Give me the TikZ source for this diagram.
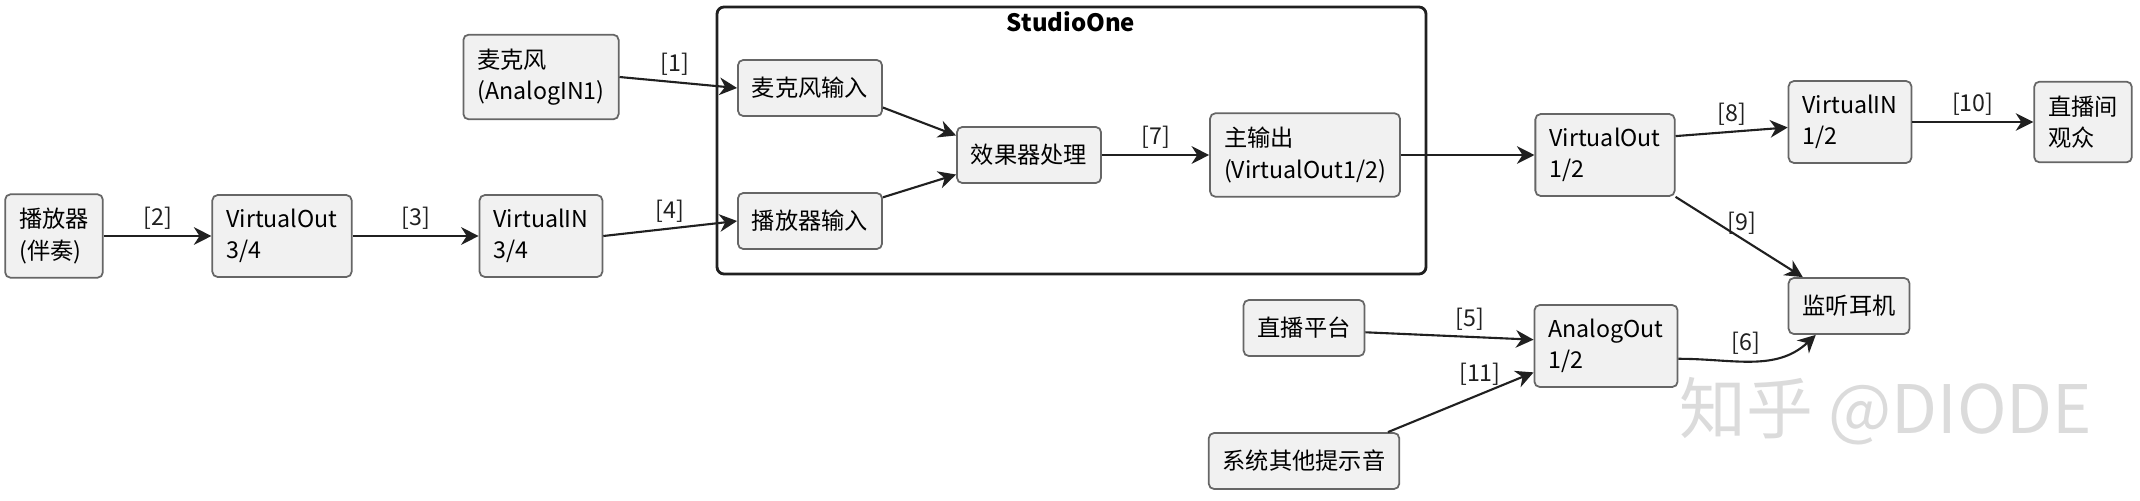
\documentclass[tikz,border=0pt]{standalone}
\usepackage{fontspec}
\setmainfont{Noto Sans CJK SC}
\usetikzlibrary{arrows.meta}

\definecolor{boxfill}{HTML}{F1F1F1}
\definecolor{boxline}{HTML}{666666}
\definecolor{wirecol}{HTML}{202020}

\begin{document}
\begin{tikzpicture}[x=0.01cm,y=-0.01cm,
    unit/.style={draw=boxline, fill=boxfill, rounded corners=1.5pt, line width=0.5pt,
        align=left, inner xsep=0.14cm, inner ysep=0.14cm, minimum height=0.56cm,
        font=\fontsize{6.6}{8.9}\selectfont},
    wire/.style={draw=wirecol, line width=0.6pt, -{Stealth[length=5pt,width=5pt,inset=1.6pt]}},
    tag/.style={font=\fontsize{6.6}{8}\selectfont, text=wirecol, inner sep=1.5pt}]
\useasboundingbox (0,0) rectangle (2140,500);

% StudioOne frame
\draw[draw=wirecol, line width=0.8pt, rounded corners=2pt] (717,7) rectangle (1426,274);
\node[font=\fontsize{6.8}{8}\selectfont\bfseries] (studio) at (1071,22) {StudioOne};

% Sources
\node[unit] (player) at (54,236) {播放器\\(伴奏)};
\node[unit] (vout34) at (282,236) {VirtualOut\\3/4};
\node[unit] (vin34) at (541,236) {VirtualIN\\3/4};
\node[unit] (mic) at (541,77) {麦克风\\(AnalogIN1)};

% Inside StudioOne
\node[unit] (micin) at (810,88) {麦克风输入};
\node[unit] (plin) at (810,221) {播放器输入};
\node[unit] (fx) at (1029,155) {效果器处理};
\node[unit] (mainout) at (1305,155) {主输出\\(VirtualOut1/2)};

% Outputs
\node[unit] (vout12) at (1605,155) {VirtualOut\\1/2};
\node[unit] (vin12) at (1850,122) {VirtualIN\\1/2};
\node[unit] (audience) at (2083,122) {直播间\\观众};
\node[unit] (phones) at (1849,306) {监听耳机};
\node[unit] (live) at (1304,328) {直播平台};
\node[unit] (aout12) at (1606,346) {AnalogOut\\1/2};
\node[unit] (sysnote) at (1304,461) {系统其他提示音};

% Straight labelled links
\foreach \a/\b/\t in {player/vout34/2, vout34/vin34/3, fx/mainout/7, vin12/audience/10} {
    \draw[wire] (\a) -- (\b) node[tag, midway, above] {[\t]};
}

% Other links
\draw[wire] (mic.east) -- (micin.west) node[tag, pos=0.47, above] {[1]};
\draw[wire] (vin34.east) -- (plin.west) node[tag, pos=0.5, above] {[4]};
\draw[wire] (micin.-15) -- (fx.165);
\draw[wire] (plin.18) -- (fx.195);
\draw[wire] (mainout) -- (vout12);
\draw[wire] (vout12.15) -- (vin12.185) node[tag, pos=0.5, above] {[8]};
\draw[wire] (vout12.south east) -- (phones.148) node[tag, pos=0.33, right=1pt] {[9]};
\draw[wire] (live.-4) -- (aout12.175) node[tag, pos=0.62, above] {[5]};
\draw[wire] (sysnote.19) -- (aout12.200) node[tag, pos=0.68, above, xshift=-2pt] {[11]};
\draw[wire] (aout12.-10) to[out=0, in=223] node[tag, pos=0.45, above] {[6]} (phones.221);

% Watermark
\node[text=gray!28, font=\fontsize{19}{20}\selectfont] (watermk) at (1886,411) {知乎 @DIODE};
\end{tikzpicture}
\end{document}
